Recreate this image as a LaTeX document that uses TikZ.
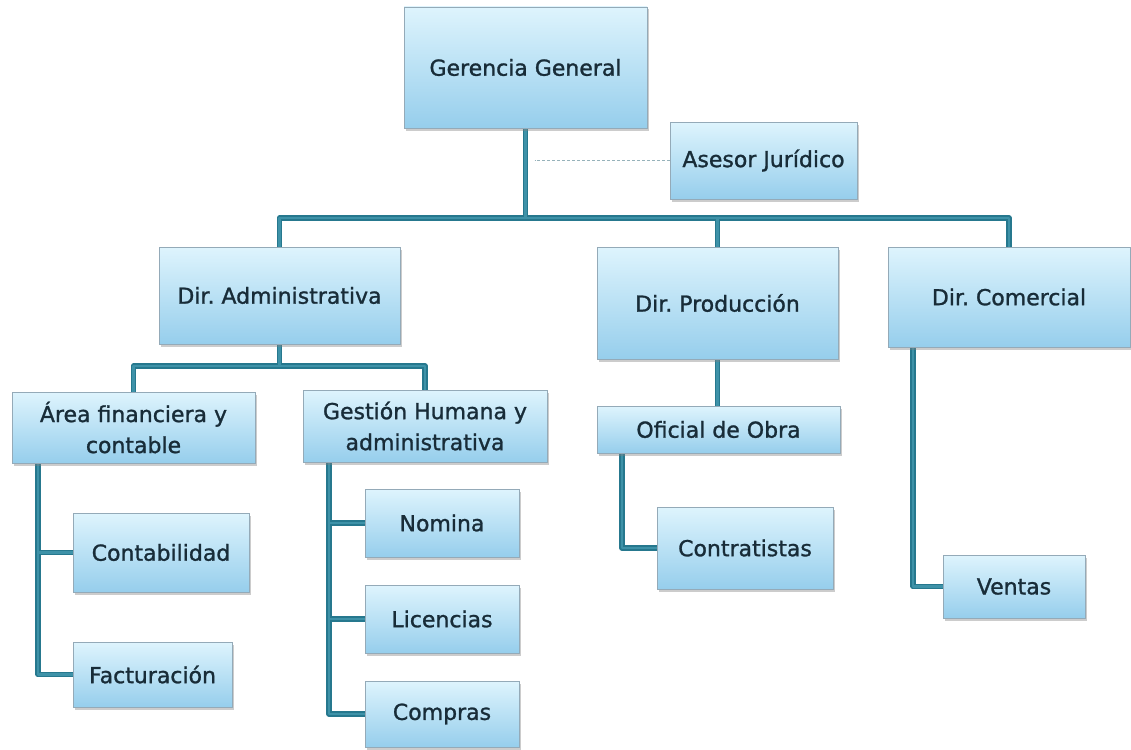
\documentclass[tikz,border=0pt]{standalone}
\usepackage{fontspec}
\setmainfont[FakeBold=1.2]{DejaVu Sans}
\frenchspacing
\usetikzlibrary{shadows,backgrounds}

\definecolor{linkteal}{RGB}{38,120,142}
\definecolor{linkcore}{RGB}{62,146,168}
\definecolor{boxtop}{RGB}{222,244,253}
\definecolor{boxbot}{RGB}{150,206,236}
\definecolor{boxedge}{RGB}{148,170,184}
\definecolor{labeltext}{RGB}{24,44,56}
\definecolor{dashgrey}{RGB}{150,178,186}

\begin{document}
\begin{tikzpicture}[x=1pt,y=-1pt,
  unit/.style={draw=boxedge, line width=0.8pt, top color=boxtop, bottom color=boxbot,
    text=labeltext, font=\fontsize{22}{31}\selectfont, align=center, inner sep=0pt,
    drop shadow={shadow xshift=1.5pt, shadow yshift=-2.5pt, opacity=0.4}},
  sz/.style 2 args={minimum width=#1pt, minimum height=#2pt},
  link/.style={draw=linkteal, line width=1.6pt, double=linkcore, double distance=2.4pt,
    line join=round},
  dashline/.style={draw=dashgrey, line width=1.8pt, dash pattern=on 3pt off 2pt}]

\useasboundingbox (0,0) rectangle (1131,749);

% top level
\node[unit, sz={243}{121}] (ger)   at (525.5,67.5) {Gerencia General};
\node[unit, sz={187}{77}]  (ase)   at (763.5,160.5) {Asesor Jurídico};

% directions
\node[unit, sz={241}{97}]  (dadm)  at (279.5,295.5) {Dir. Administrativa};
\node[unit, sz={241}{112}] (dprod) at (717.5,303) {Dir. Producción};
\node[unit, sz={242}{100}] (dcom)  at (1009,297) {Dir. Comercial};

% areas
\node[unit, sz={243}{71}]  (area)  at (133.5,427.5) {Área financiera y\\contable};
\node[unit, sz={244}{72}]  (gest)  at (425,426) {Gestión Humana y\\administrativa};
\node[unit, sz={243}{47}]  (ofic)  at (718.5,429.5) {Oficial de Obra};

% units
\node[unit, sz={176}{79}]  (cont)  at (161,552.5) {Contabilidad};
\node[unit, sz={159}{65}]  (fact)  at (152.5,674.5) {Facturación};
\node[unit, sz={154}{68}]  (nom)   at (442,523) {Nomina};
\node[unit, sz={154}{68}]  (lic)   at (442,619) {Licencias};
\node[unit, sz={154}{66}]  (comp)  at (442,714) {Compras};
\node[unit, sz={176}{82}]  (contr) at (745,548) {Contratistas};
\node[unit, sz={142}{63}]  (vent)  at (1014,586.5) {Ventas};

% junction points of the tree
\coordinate (bus)    at (525.5,218);
\coordinate (admbus) at (279.5,366);
\coordinate (areaL)  at (38,0);
\coordinate (gestL)  at (329,0);
\coordinate (oficL)  at (622,0);
\coordinate (dcomL)  at (913,0);

\begin{scope}[on background layer]
  \fill[white] (0,0) rectangle (1131,749);
  \draw[dashline] (ase.west) -- ([xshift=9pt]ase.west -| ger.south);
  \draw[link]
    (ger.south) -- (bus)
    (dadm.north) |- (bus) -| (dcom.north)
    (dprod.north) -- (dprod.north |- bus)
    (dadm.south) -- (admbus)
    (area.north) |- (admbus) -| (gest.north)
    (area.south -| areaL) |- (fact.west)
    (cont.west) -- (cont.west -| areaL)
    (gest.south -| gestL) |- (comp.west)
    (nom.west) -- (nom.west -| gestL)
    (lic.west) -- (lic.west -| gestL)
    (dprod.south) -- (dprod.south |- ofic.north)
    (ofic.south -| oficL) |- (contr.west)
    (dcom.south -| dcomL) |- (vent.west);
\end{scope}
\end{tikzpicture}
\end{document}
